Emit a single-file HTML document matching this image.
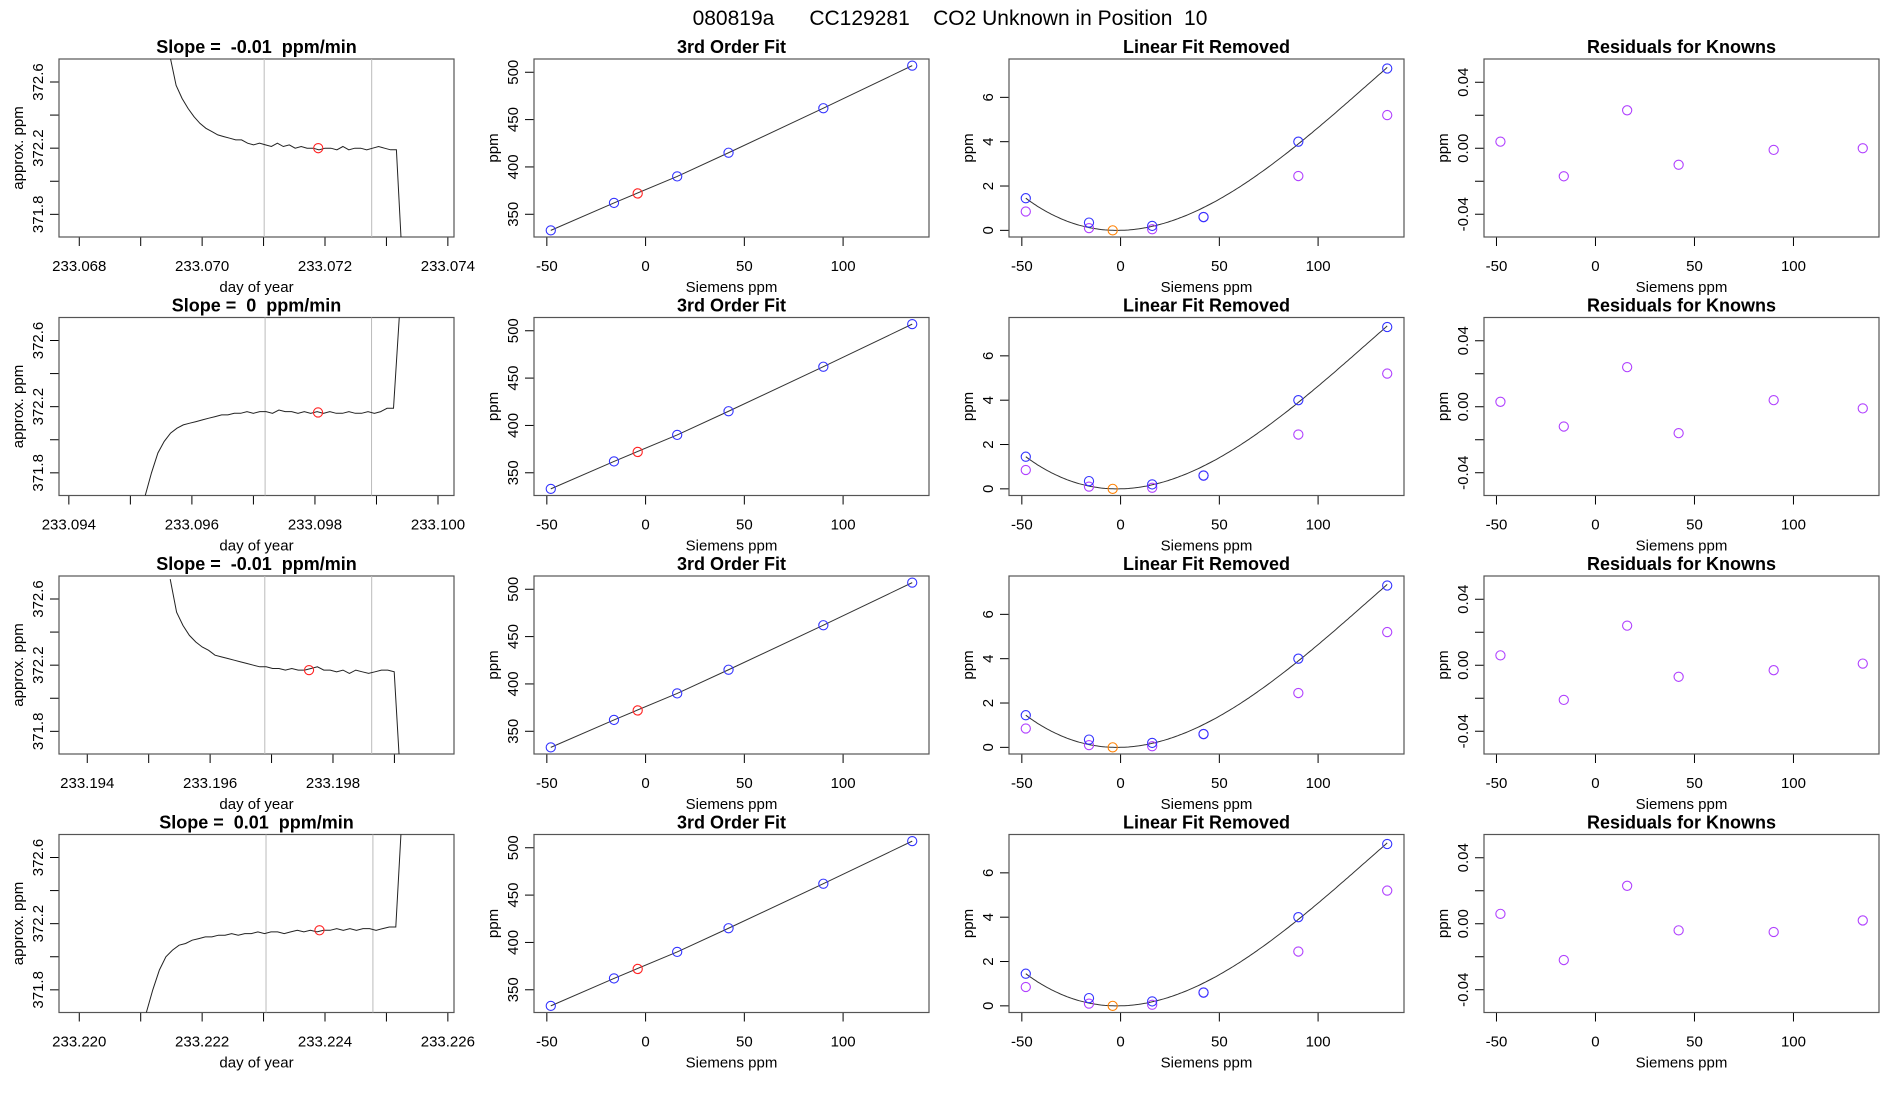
<!DOCTYPE html>
<html><head><meta charset="utf-8"><style>
html,body{margin:0;padding:0;background:#fff;}
svg{display:block;font-family:"Liberation Sans",sans-serif;}
svg text{white-space:pre;}
</style></head><body>
<svg id="chart" width="1900" height="1100" xmlns="http://www.w3.org/2000/svg" xml:space="preserve">
<text x="950" y="25" text-anchor="middle" font-size="21">080819a      CC129281    CO2 Unknown in Position  10</text>
</svg>
<script>
// ---- data ----
const knownX = [-48, -16, 16, 42, 90, 135];
const knownY = [333, 362, 390, 415, 462, 507];
const unknownX = -4;
const unknownY = 372;
const linRemBlue = [1.45, 0.35, 0.2, 0.6, 4.0, 7.3];
const linRemPurple = [0.85, 0.1, 0.05, 0.6, 2.45, 5.2];
const linRemUnknown = 0;
const fitCoef = [0, 0.00212, 0.0005985, -0.0000015626];
const slopeLabels = ["-0.01", "0", "-0.01", "0.01"];
const resid1 = [0.004, -0.017, 0.023, -0.010, -0.001, 0.000];
const resid2 = [0.003, -0.012, 0.024, -0.016, 0.004, -0.001];
const resid3 = [0.006, -0.021, 0.024, -0.007, -0.003, 0.001];
const resid4 = [0.006, -0.022, 0.023, -0.004, -0.005, 0.002];
const trace1 = [372.75,372.58,372.50,372.44,372.39,372.35,372.32,372.30,372.28,372.27,372.26,372.25,372.25,372.23,372.22,372.23,372.22,372.21,372.23,372.21,372.22,372.20,372.21,372.20,372.20,372.19,372.20,372.20,372.19,372.21,372.19,372.20,372.20,372.19,372.20,372.21,372.20,372.19,372.19,371.5];
const trace2 = [371.66,371.80,371.92,371.99,372.04,372.07,372.09,372.10,372.11,372.12,372.13,372.14,372.15,372.15,372.16,372.16,372.17,372.16,372.17,372.17,372.16,372.18,372.17,372.17,372.16,372.17,372.16,372.17,372.16,372.17,372.16,372.16,372.17,372.16,372.16,372.17,372.16,372.17,372.19,372.19,372.8];
const trace3 = [372.72,372.52,372.44,372.38,372.34,372.31,372.29,372.26,372.25,372.24,372.23,372.22,372.21,372.20,372.19,372.19,372.18,372.18,372.17,372.18,372.17,372.17,372.18,372.19,372.17,372.17,372.16,372.17,372.15,372.17,372.16,372.15,372.16,372.17,372.17,372.16,371.5];
const trace4 = [371.66,371.80,371.92,372.00,372.04,372.07,372.08,372.10,372.11,372.12,372.12,372.13,372.13,372.14,372.13,372.14,372.14,372.15,372.14,372.15,372.15,372.14,372.15,372.16,372.15,372.16,372.15,372.16,372.16,372.17,372.16,372.17,372.16,372.17,372.17,372.16,372.17,372.18,372.18,372.9];
const traceStart = [233.06948, 233.09524, 233.19535, 233.22109];
const traceEnd = [233.07326, 233.09938, 233.1991, 233.22526];
const timeMin = [233.06767, 233.09384, 233.19354, 233.21967];
const timeMax = [233.07410, 233.10026, 233.19997, 233.22610];
const timeTicks = [
 [233.068,233.069,233.070,233.071,233.072,233.073,233.074],
 [233.094,233.095,233.096,233.097,233.098,233.099,233.100],
 [233.194,233.195,233.196,233.197,233.198,233.199],
 [233.220,233.221,233.222,233.223,233.224,233.225,233.226]];
const timeLabels = [
 ["233.068","233.070","233.072","233.074"],
 ["233.094","233.096","233.098","233.100"],
 ["233.194","233.196","233.198"],
 ["233.220","233.222","233.224","233.226"]];
const grayLines = [[233.07101,233.07276],[233.09719,233.09892],[233.19689,233.19863],[233.22304,233.22478]];
const redT = [233.07189, 233.09805, 233.19761, 233.22391];
const redV = [372.20, 372.165, 372.17, 372.16];

const NS = "http://www.w3.org/2000/svg";
const svg = document.getElementById('chart');
function mk(tag, attrs, parent){ const e=document.createElementNS(NS,tag); for(const k in attrs) e.setAttribute(k,attrs[k]); (parent||svg).appendChild(e); return e; }
const lefts=[59,534,1009,1484], W=395, H=178;
const tops=[59,317.5,576,834.5];
let clipId=0;

function panel(r,c,title,xmin,xmax,ymin,ymax,xt,xl,yt,yl,xlab,ylab){
  const L=lefts[c], T=tops[r];
  const g=mk('g',{});
  
  
  const sx=v=>L+(v-xmin)/(xmax-xmin)*W;
  const sy=v=>T+H-(v-ymin)/(ymax-ymin)*H;
  const t=mk('text',{x:L+W/2,y:T-6,'text-anchor':'middle','font-size':18,'font-weight':'bold'},g);
  t.textContent=title;
  
  
  const xa=mk('g',{stroke:'#000','stroke-width':1},g);
  
  
  mk('line',{x1:sx(xt[0]),x2:sx(xt[xt.length-1]),y1:T+H,y2:T+H},xa);
  xt.forEach(v=>mk('line',{x1:sx(v),x2:sx(v),y1:T+H,y2:T+H+9},xa));
  xl.forEach(s=>{const e=mk('text',{x:sx(parseFloat(s)),y:T+H+34,'text-anchor':'middle','font-size':15},g);e.textContent=s;
    
    });
  const xlb=mk('text',{x:L+W/2,y:T+H+55,'text-anchor':'middle','font-size':15},g);xlb.textContent=xlab;
  
  
  const ya=mk('g',{stroke:'#000','stroke-width':1},g);
  
  
  mk('line',{x1:L,x2:L,y1:sy(yt[0]),y2:sy(yt[yt.length-1])},ya);
  yt.forEach(v=>mk('line',{x1:L,x2:L-9,y1:sy(v),y2:sy(v)},ya));
  yl.forEach(s=>{const y=sy(parseFloat(s));const e=mk('text',{x:0,y:0,'text-anchor':'middle','font-size':15,transform:`translate(${L-16},${y}) rotate(-90)`},g);e.textContent=s;
    
    });
  const ylb=mk('text',{x:0,y:0,'text-anchor':'middle','font-size':15,transform:`translate(${L-36},${T+H/2}) rotate(-90)`},g);ylb.textContent=ylab;
  
  
  mk('rect',{x:L,y:T,width:W,height:H,fill:'none',stroke:'#555','stroke-width':1.2},g);
  const cid='c'+(clipId++);
  const cp=mk('clipPath',{id:cid},g); mk('rect',{x:L,y:T,width:W,height:H},cp);
  const plot=mk('g',{'clip-path':`url(#${cid})`},g);
  return {sx,sy,plot};
}
function circ(p,x,y,col,name){const e=mk('circle',{cx:p.sx(x),cy:p.sy(y),r:4.6,fill:'none',stroke:col,'stroke-width':1.1},p.plot);
  
  }

const traces=[trace1,trace2,trace3,trace4];
const resids=[resid1,resid2,resid3,resid4];
for(let r=0;r<4;r++){
  const p1=panel(r,0,'Slope =  '+slopeLabels[r]+'  ppm/min',timeMin[r],timeMax[r],371.663,372.739,
    timeTicks[r],timeLabels[r],[371.8,372.0,372.2,372.4,372.6],['371.8','372.2','372.6'],'day of year','approx. ppm');
  grayLines[r].forEach(v=>{const l=mk('line',{x1:p1.sx(v),x2:p1.sx(v),y1:p1.sy(372.739),y2:p1.sy(371.663),stroke:'#bbb','stroke-width':1},p1.plot);
    
    });
  const tr=traces[r], n=tr.length, step=(traceEnd[r]-traceStart[r])/(n-1);
  const d=tr.map((v,i)=>(i?'L':'M')+p1.sx(traceStart[r]+i*step).toFixed(1)+' '+p1.sy(v).toFixed(1)).join(' ');
  const pl=mk('path',{d:d,fill:'none',stroke:'#222','stroke-width':1},p1.plot);
  
  
  circ(p1,redT[r],redV[r],'#f22','unknown-mean-point');
  const p2=panel(r,1,'3rd Order Fit',-56.5,143.5,326,514,[-50,0,50,100],['-50','0','50','100'],
    [350,400,450,500],['350','400','450','500'],'Siemens ppm','ppm');
  const ln=mk('path',{d:knownX.map((x,i)=>(i?'L':'M')+p2.sx(x)+' '+p2.sy(knownY[i])).join(' '),fill:'none',stroke:'#333','stroke-width':1},p2.plot);
  
  
  knownX.forEach((x,i)=>circ(p2,x,knownY[i],'#33f','known-point'));
  circ(p2,unknownX,unknownY,'#f22','unknown-point');
  const p3=panel(r,2,'Linear Fit Removed',-56.5,143.5,-0.30,7.73,[-50,0,50,100],['-50','0','50','100'],
    [0,2,4,6],['0','2','4','6'],'Siemens ppm','ppm');
  let cd='';
  for(let x=knownX[0],k=0;x<=knownX[knownX.length-1]+0.01;x+=1,k++){
    const y=fitCoef[0]+fitCoef[1]*x+fitCoef[2]*x*x+fitCoef[3]*x*x*x;
    cd+=(k?'L':'M')+p3.sx(x).toFixed(1)+' '+p3.sy(y).toFixed(1)+' ';
  }
  const cv=mk('path',{d:cd,fill:'none',stroke:'#333','stroke-width':1},p3.plot);
  
  
  knownX.forEach((x,i)=>circ(p3,x,linRemPurple[i],'#b040ff','linear-residual-point'));
  knownX.forEach((x,i)=>circ(p3,x,linRemBlue[i],'#33f','known-point'));
  circ(p3,unknownX,linRemUnknown,'#ff8000','unknown-point');
  const p4=panel(r,3,'Residuals for Knowns',-56.3,143.2,-0.0538,0.0541,[-50,0,50,100],['-50','0','50','100'],
    [-0.04,-0.02,0,0.02,0.04],['-0.04','0.00','0.04'],'Siemens ppm','ppm');
  knownX.forEach((x,i)=>circ(p4,x,resids[r][i],'#b040ff','residual-point'));
}
</script>
</body></html>
